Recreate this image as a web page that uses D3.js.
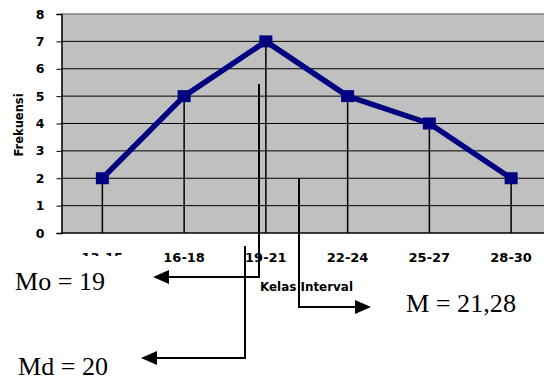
<!DOCTYPE html>
<html>
<head>
<meta charset="utf-8">
<script src="https://cdn.jsdelivr.net/npm/d3@7"></script>
<style>
  body { margin: 0; background: #fff; }
  svg { display: block; }
</style>
</head>
<body>
<svg></svg>
<script>
const categories = ["13-15", "16-18", "19-21", "22-24", "25-27", "28-30"];
const frekuensi = [2, 5, 7, 5, 4, 2];
const yTicks = [0, 1, 2, 3, 4, 5, 6, 7, 8];
const noteLabels = ["Mo = 19", "Md = 20", "M = 21,28"];

const width = 544, height = 380;
const plot = { left: 61.5, right: 552, top: 14, bottom: 233 };
const sans = "'DejaVu Sans', sans-serif";

const svg = d3.select("svg")
  .attr("width", width)
  .attr("height", height);

const x = d3.scaleBand()
  .domain(categories)
  .range([plot.left, plot.right])
  .padding(0);

const y = d3.scaleLinear()
  .domain([0, 8])
  .range([plot.bottom, plot.top]);

const cx = d => x(d) + x.bandwidth() / 2;

// plot background
svg.append("rect")
  .attr("x", plot.left)
  .attr("y", plot.top)
  .attr("width", plot.right - plot.left)
  .attr("height", plot.bottom - plot.top)
  .attr("fill", "#c0c0c0");

// horizontal gridlines
svg.append("g")
  .selectAll("line")
  .data(yTicks.filter(t => t > 0))
  .join("line")
  .attr("x1", plot.left)
  .attr("x2", plot.right)
  .attr("y1", d => y(d))
  .attr("y2", d => y(d))
  .attr("stroke", d => d === 8 ? "#808080" : "#000")
  .attr("stroke-width", d => d === 8 ? 1.5 : 1);

// y axis
const yAxis = d3.axisLeft(y)
  .tickValues(yTicks)
  .tickSize(5)
  .tickPadding(12)
  .tickFormat(d3.format("d"));

svg.append("g")
  .attr("transform", `translate(${plot.left},0)`)
  .call(yAxis)
  .call(g => g.select(".domain").attr("stroke", "#000").attr("stroke-width", 1.5))
  .call(g => g.selectAll(".tick line").attr("stroke", "#000").attr("stroke-width", 1))
  .call(g => g.selectAll(".tick text")
    .attr("font-family", sans)
    .attr("font-weight", 700)
    .attr("font-size", 12.5)
    .attr("fill", "#000"));

// x axis
svg.append("line")
  .attr("x1", plot.left)
  .attr("x2", plot.right)
  .attr("y1", plot.bottom)
  .attr("y2", plot.bottom)
  .attr("stroke", "#000")
  .attr("stroke-width", 1.5);

svg.append("g")
  .selectAll("text")
  .data(categories)
  .join("text")
  .attr("x", d => cx(d))
  .attr("y", 262)
  .attr("text-anchor", "middle")
  .attr("font-family", sans)
  .attr("font-weight", 700)
  .attr("font-size", 13)
  .text(d => d);

// drop lines
svg.append("g")
  .selectAll("line")
  .data(categories)
  .join("line")
  .attr("x1", d => cx(d))
  .attr("x2", d => cx(d))
  .attr("y1", (d, i) => y(frekuensi[i]))
  .attr("y2", plot.bottom)
  .attr("stroke", "#000")
  .attr("stroke-width", 1.5);

// series line
const line = d3.line()
  .x((d, i) => cx(categories[i]))
  .y(d => y(d));

svg.append("path")
  .datum(frekuensi)
  .attr("d", line)
  .attr("fill", "none")
  .attr("stroke", "#000080")
  .attr("stroke-width", 5.5)
  .attr("stroke-linejoin", "round");

svg.append("g")
  .selectAll("rect")
  .data(frekuensi)
  .join("rect")
  .attr("x", (d, i) => cx(categories[i]) - 6.5)
  .attr("y", d => y(d) - 6)
  .attr("width", 13)
  .attr("height", 12)
  .attr("fill", "#000080");

// axis titles
svg.append("text")
  .attr("transform", "translate(23,125) rotate(-90)")
  .attr("text-anchor", "middle")
  .attr("font-family", sans)
  .attr("font-weight", 700)
  .attr("font-size", 11.5)
  .text("Frekuensi");

svg.append("text")
  .attr("x", 260)
  .attr("y", 291)
  .attr("textLength", 93)
  .attr("lengthAdjust", "spacingAndGlyphs")
  .attr("font-family", sans)
  .attr("font-weight", 700)
  .attr("font-size", 11.5)
  .text("Kelas Interval");

// white box of the Mo label hides the lower part of the first tick label
svg.append("rect")
  .attr("x", 0)
  .attr("y", 256)
  .attr("width", 140)
  .attr("height", 40)
  .attr("fill", "#fff");

// annotation arrows
const arrows = [
  { pts: [[259, 84], [259, 277], [168, 277]], tip: [153, 277], dir: -1 },
  { pts: [[245, 246], [245, 358], [155, 358]], tip: [141, 358], dir: -1 },
  { pts: [[299, y(2)], [299, 307], [356, 307]], tip: [371, 307], dir: 1 }
];

const ag = svg.append("g");
arrows.forEach(a => {
  ag.append("path")
    .attr("d", d3.line()(a.pts))
    .attr("fill", "none")
    .attr("stroke", "#000")
    .attr("stroke-width", 2);
  const [tx, ty] = a.tip;
  ag.append("path")
    .attr("d", d3.line()([[tx, ty], [tx - a.dir * 16, ty - 7], [tx - a.dir * 16, ty + 7]]) + "Z")
    .attr("fill", "#000");
});

// annotation labels
const labelPos = [[15, 290], [18, 375], [406, 312]];
const labelLen = [90, 90, 110];
svg.append("g")
  .selectAll("text")
  .data(noteLabels)
  .join("text")
  .attr("x", (d, i) => labelPos[i][0])
  .attr("y", (d, i) => labelPos[i][1])
  .attr("textLength", (d, i) => labelLen[i])
  .attr("lengthAdjust", "spacingAndGlyphs")
  .attr("font-family", "'Liberation Serif', serif")
  .attr("font-size", 26)
  .attr("fill", "#000")
  .text(d => d);
</script>
</body>
</html>
